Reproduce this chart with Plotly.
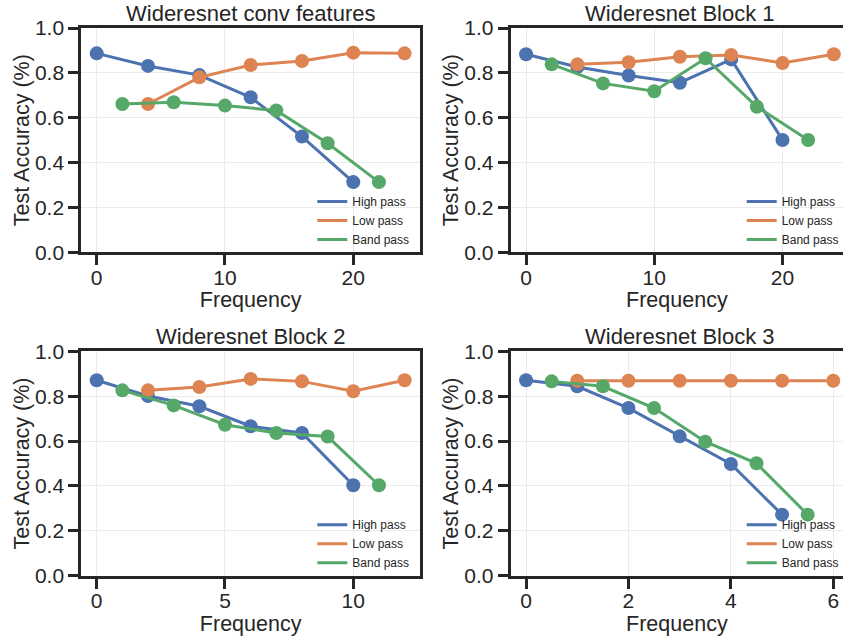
import plotly.graph_objects as go

# ---- data ----
titles = ["Wideresnet conv features", "Wideresnet Block 1", "Wideresnet Block 2", "Wideresnet Block 3"]
series_names = ["High pass", "Low pass", "Band pass"]

# panel 1: conv features
p1_high_x = [0, 4, 8, 12, 16, 20]
p1_high_y = [0.887, 0.831, 0.790, 0.691, 0.516, 0.313]
p1_low_x = [4, 8, 12, 16, 20, 24]
p1_low_y = [0.661, 0.780, 0.835, 0.853, 0.890, 0.887]
p1_band_x = [2, 6, 10, 14, 18, 22]
p1_band_y = [0.661, 0.669, 0.654, 0.632, 0.486, 0.313]

# panel 2: block 1
p2_high_x = [0, 4, 8, 12, 16, 20]
p2_high_y = [0.883, 0.826, 0.788, 0.756, 0.860, 0.501]
p2_low_x = [4, 8, 12, 16, 20, 24]
p2_low_y = [0.838, 0.847, 0.872, 0.880, 0.844, 0.883]
p2_band_x = [2, 6, 10, 14, 18, 22]
p2_band_y = [0.838, 0.753, 0.718, 0.865, 0.649, 0.501]

# panel 3: block 2
p3_high_x = [0, 2, 4, 6, 8, 10]
p3_high_y = [0.871, 0.801, 0.755, 0.666, 0.636, 0.403]
p3_low_x = [2, 4, 6, 8, 10, 12]
p3_low_y = [0.826, 0.841, 0.877, 0.866, 0.822, 0.871]
p3_band_x = [1, 3, 5, 7, 9, 11]
p3_band_y = [0.826, 0.759, 0.673, 0.636, 0.620, 0.403]

# panel 4: block 3
p4_high_x = [0, 1, 2, 3, 4, 5]
p4_high_y = [0.871, 0.844, 0.747, 0.621, 0.498, 0.272]
p4_low_x = [1, 2, 3, 4, 5, 6]
p4_low_y = [0.869, 0.869, 0.869, 0.869, 0.869, 0.869]
p4_band_x = [0.5, 1.5, 2.5, 3.5, 4.5, 5.5]
p4_band_y = [0.866, 0.844, 0.747, 0.597, 0.501, 0.272]

x_ticks = [[0, 10, 20], [0, 10, 20], [0, 5, 10], [0, 2, 4, 6]]
y_ticks = [0.0, 0.2, 0.4, 0.6, 0.8, 1.0]

panels = [
    [(p1_high_x, p1_high_y), (p1_low_x, p1_low_y), (p1_band_x, p1_band_y)],
    [(p2_high_x, p2_high_y), (p2_low_x, p2_low_y), (p2_band_x, p2_band_y)],
    [(p3_high_x, p3_high_y), (p3_low_x, p3_low_y), (p3_band_x, p3_band_y)],
    [(p4_high_x, p4_high_y), (p4_low_x, p4_low_y), (p4_band_x, p4_band_y)],
]

# ---- styling ----
W, H = 843, 636
colors = ["#4C72B0", "#DD8452", "#55A868"]
dark = "#262626"
font = "Liberation Sans, Arial, sans-serif"

x_ranges = [[-1.2, 25.2], [-1.2, 24.72], [-0.6, 12.6], [-0.3, 6.19]]
x_domains_px = [(81.3, 420.0), (510.7, 843.0), (81.3, 420.0), (510.7, 843.0)]
y_domains_px = [(28.0, 252.3), (28.0, 252.3), (351.3, 575.7), (351.3, 575.7)]

fig = go.Figure()
layout = dict(
    width=W, height=H,
    margin=dict(l=0, r=0, t=0, b=0, autoexpand=False),
    paper_bgcolor="white", plot_bgcolor="white",
    font=dict(family=font, color=dark),
    showlegend=True,
    annotations=[],
)

for i, panel in enumerate(panels):
    k = "" if i == 0 else str(i + 1)
    xa, ya = "x" + k, "y" + k
    leg = "legend" + k
    for j, (xs, ys) in enumerate(panel):
        fig.add_trace(go.Scatter(
            x=xs, y=ys, mode="lines+markers", xaxis=xa, yaxis=ya,
            line=dict(color=colors[j], width=3),
            marker=dict(color=colors[j], size=14),
            showlegend=False, name=series_names[j],
        ))
    for j in range(3):
        fig.add_trace(go.Scatter(
            x=[None], y=[None], mode="lines", xaxis=xa, yaxis=ya,
            line=dict(color=colors[j], width=3),
            name=series_names[j], legend=leg, showlegend=True,
        ))
    x0, x1 = x_domains_px[i]
    yt, yb = y_domains_px[i]
    xd = [x0 / W, min(x1 / W, 1.0)]
    yd = [1 - yb / H, 1 - yt / H]
    right_panel = i % 2 == 1
    layout["xaxis" + k] = dict(
        domain=xd, anchor=ya, range=x_ranges[i], automargin=False,
        tickvals=x_ticks[i], ticks="outside", ticklen=10, tickwidth=2.5, tickcolor=dark,
        ticklabelstandoff=-6,
        showline=True, linewidth=3, linecolor=dark, mirror=True,
        showgrid=True, gridcolor="#EBEBEB", gridwidth=1, zeroline=False,
        tickfont=dict(size=21, family=font, color=dark),
        title=dict(text="Frequency", font=dict(size=21.5, family=font, color=dark), standoff=4),
    )
    layout["yaxis" + k] = dict(
        domain=yd, anchor=xa, range=[0, 1], automargin=False,
        tickvals=y_ticks, tickformat=".1f", ticks="outside", ticklen=10, tickwidth=2.5, tickcolor=dark,
        showline=True, linewidth=3, linecolor=dark, mirror=not right_panel,
        showgrid=True, gridcolor="#EBEBEB", gridwidth=1, zeroline=False,
        tickfont=dict(size=21, family=font, color=dark),
        title=dict(text="Test Accuracy (%)", font=dict(size=21.5, family=font, color=dark), standoff=0),
    )
    layout[leg] = dict(
        x=(x0 + 231) / W, xanchor="left",
        y=1 - (yt + 159) / H, yanchor="top",
        bgcolor="rgba(255,255,255,0)", borderwidth=0,
        font=dict(size=12, family=font, color=dark),
        itemwidth=30, tracegroupgap=0,
    )
    layout["annotations"].append(dict(
        text=titles[i], xref="paper", yref="paper",
        x=(x0 + (420.0 if not right_panel else 849.0)) / 2 / W,
        y=1 - yt / H, xanchor="center", yanchor="bottom", yshift=0,
        showarrow=False, font=dict(size=22, family=font, color=dark),
    ))

fig.update_layout(**layout)
fig.write_html("out.html")
